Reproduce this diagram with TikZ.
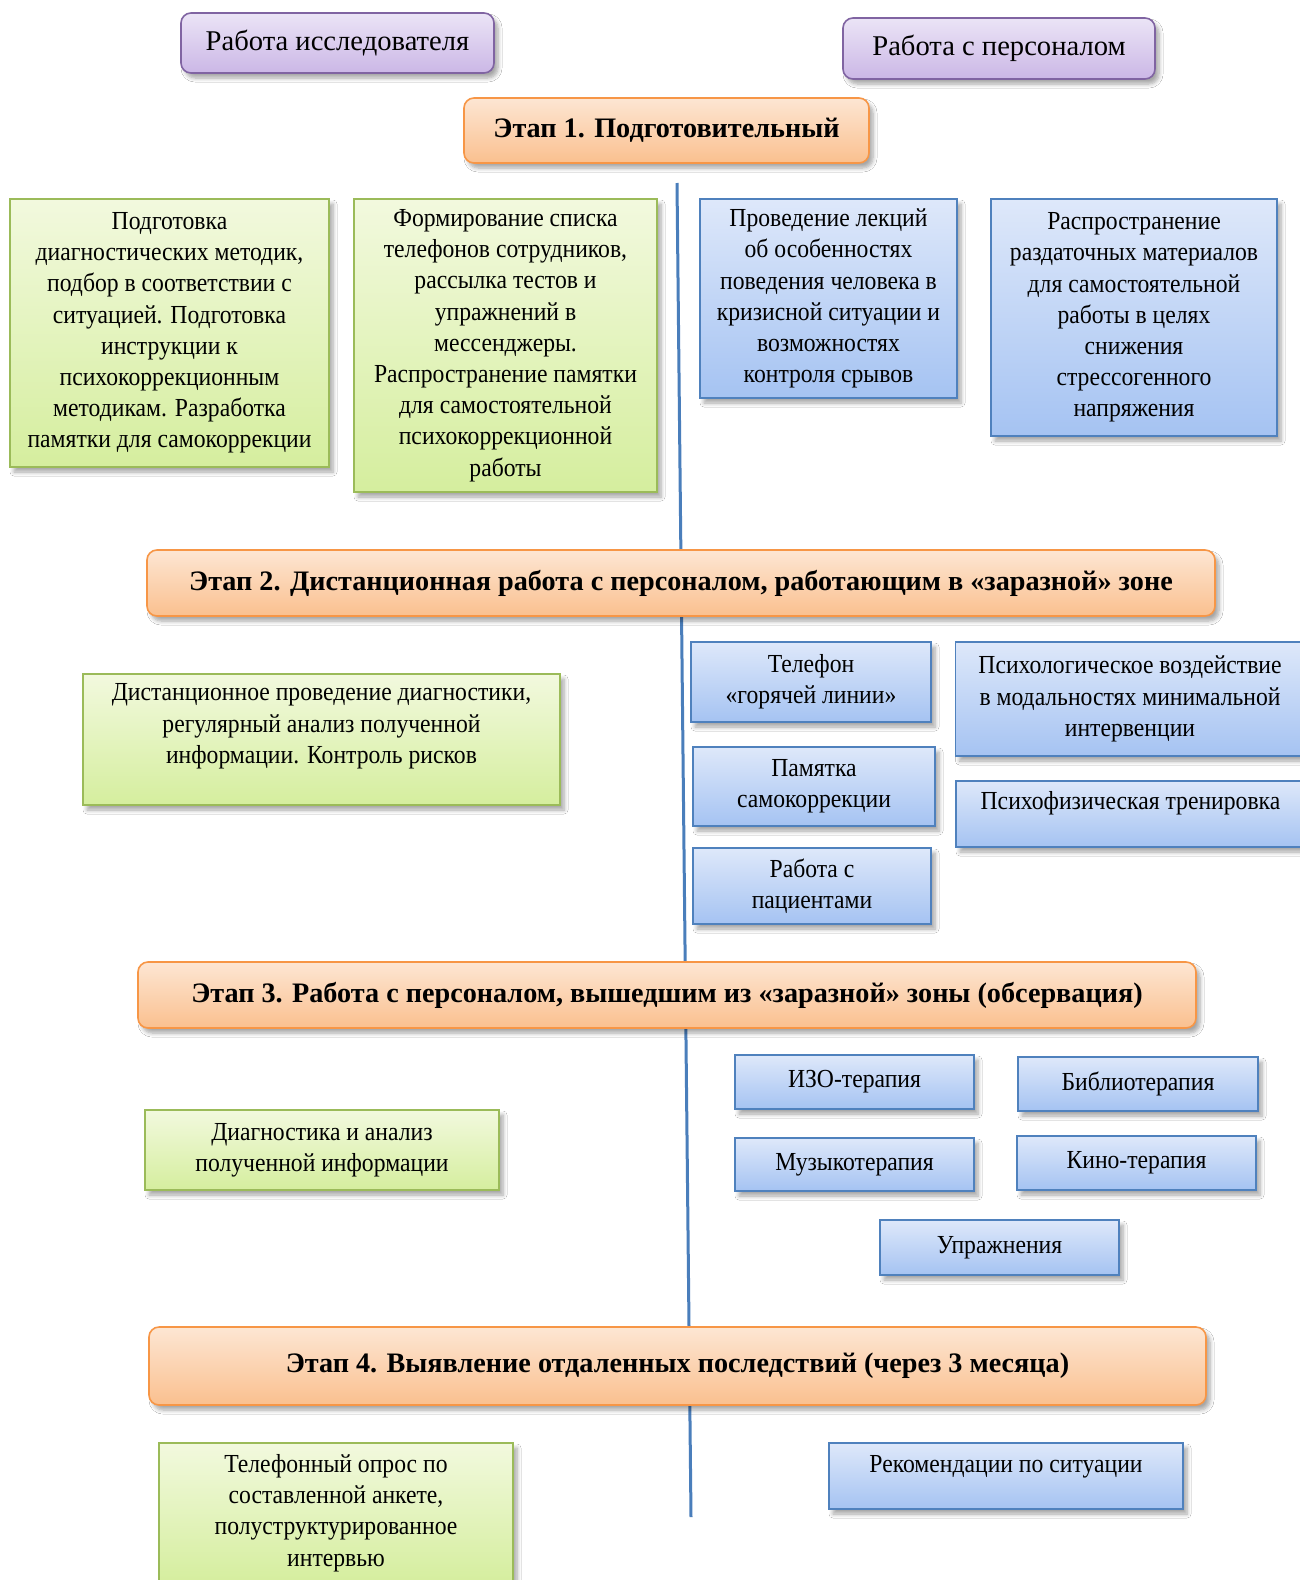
\documentclass[tikz,border=0pt]{standalone}
\usepackage{fontspec}
\setmainfont{Liberation Serif}
\newfontfamily\boxfont[FakeStretch=0.91]{Liberation Serif}
\usetikzlibrary{shadows.blur,backgrounds}
\definecolor{gtop}{HTML}{F2F9DE}
\definecolor{gbot}{HTML}{D5EE9E}
\definecolor{gline}{HTML}{9BBB59}
\definecolor{btop}{HTML}{DEE8FA}
\definecolor{bbot}{HTML}{A5C3F2}
\definecolor{bline}{HTML}{4F81BD}
\definecolor{otop}{HTML}{FDE6D3}
\definecolor{obot}{HTML}{FAC08F}
\definecolor{oline}{HTML}{F79646}
\definecolor{ptop}{HTML}{EBE4F6}
\definecolor{pbot}{HTML}{CBB7E6}
\definecolor{pline}{HTML}{8064A2}
\definecolor{axis}{HTML}{4A7EBB}
\tikzset{
  sz/.style 2 args={minimum width=#1*0.5pt, minimum height=#2*0.5pt},
  basebox/.style={inner sep=1pt, align=center, line width=0.8pt,
    blur shadow={shadow xshift=2pt, shadow yshift=-2.5pt, shadow opacity=35, shadow blur steps=6, shadow blur radius=2pt}},
  gbox/.style={basebox, draw=gline, top color=gtop, bottom color=gbot,
    font=\boxfont\fontsize{13}{15.6}\selectfont},
  bbox/.style={basebox, draw=bline, top color=btop, bottom color=bbot,
    font=\boxfont\fontsize{13}{15.6}\selectfont},
  obox/.style={basebox, rounded corners=5pt, draw=oline, top color=otop, bottom color=obot,
    font=\fontsize{14.1}{17}\selectfont\bfseries},
  pbox/.style={basebox, rounded corners=5pt, draw=pline, top color=ptop, bottom color=pbot,
    font=\fontsize{14.3}{17}\selectfont},
  axisline/.style={draw=axis, line width=1.5pt}
}
\begin{document}
\begin{tikzpicture}[x=0.5pt,y=-0.5pt]
\clip (0,0) rectangle (1300,1580);
\fill[white] (0,0) rectangle (1300,1580);
\coordinate (ltop) at (677,183);
\coordinate (lbot) at (691,1517);
\draw[axisline] (ltop) -- (lbot);

\node[pbox, sz={313}{60}] (p1) at (337.5,43) {Работа исследователя};
\node[pbox, sz={312}{61}] (p2) at (999,48.5) {Работа с персоналом};

\node[obox, sz={405}{65}] (s1) at (666.5,130.5) {Этап 1. Подготовительный};

\node[gbox, sz={319}{268}] (gA) at (169.5,333) {Подготовка\\ диагностических методик,\\ подбор в соответствии с\\ ситуацией. Подготовка\\ инструкции к\\ психокоррекционным\\ методикам. Разработка\\ памятки для самокоррекции};
\node[gbox, sz={303}{293}] (gB) at (505.5,345.5) {Формирование списка\\ телефонов сотрудников,\\ рассылка тестов и\\ упражнений в\\ мессенджеры.\\ Распространение памятки\\ для самостоятельной\\ психокоррекционной\\ работы};
\node[bbox, sz={257}{199}] (bC) at (828.5,298.5) {Проведение лекций\\ об особенностях\\ поведения человека в\\ кризисной ситуации и\\ возможностях\\ контроля срывов};
\node[bbox, sz={286}{237}] (bD) at (1134,317.5) {Распространение\\ раздаточных материалов\\ для самостоятельной\\ работы в целях\\ снижения\\ стрессогенного\\ напряжения};

\node[obox, sz={1068}{66}] (s2) at (681,583) {Этап 2. Дистанционная работа с персоналом, работающим в «заразной» зоне};

\node[gbox, sz={477}{131}, text depth=16pt] (g2) at (321.5,739.5) {Дистанционное проведение диагностики,\\ регулярный анализ полученной\\ информации. Контроль рисков};
\node[bbox, sz={240}{80}] (b21) at (811,682) {Телефон\\ «горячей линии»};
\node[bbox, sz={349}{114}] (b22) at (1130,699) {Психологическое воздействие\\ в модальностях минимальной\\ интервенции};
\node[bbox, sz={242}{79}] (b23) at (814,786.5) {Памятка\\ самокоррекции};
\node[bbox, sz={349}{66}, text depth=14pt] (b24) at (1130.5,814) {Психофизическая тренировка};
\node[bbox, sz={238}{76}] (b25) at (812,886) {Работа с\\ пациентами};

\node[obox, sz={1058}{66}] (s3) at (667,995) {Этап 3. Работа с персоналом, вышедшим из «заразной» зоны (обсервация)};

\node[gbox, sz={354}{80}] (g3) at (322,1150) {Диагностика и анализ\\ полученной информации};
\node[bbox, sz={239}{54}] (b31) at (854.5,1082) {ИЗО-терапия};
\node[bbox, sz={240}{54}] (b32) at (1138,1084) {Библиотерапия};
\node[bbox, sz={239}{53}] (b33) at (854.5,1164.5) {Музыкотерапия};
\node[bbox, sz={239}{54}] (b34) at (1136.5,1163) {Кино-терапия};
\node[bbox, sz={239}{55}] (b35) at (999.5,1247.5) {Упражнения};

\node[obox, sz={1057}{78}] (s4) at (677.5,1366) {Этап 4. Выявление отдаленных последствий (через 3 месяца)};

\node[gbox, sz={354}{140}] (g4) at (336,1513) {Телефонный опрос по\\ составленной анкете,\\ полуструктурированное\\ интервью};
\node[bbox, sz={354}{66}, text depth=12pt] (b4) at (1006,1476) {Рекомендации по ситуации};
\end{tikzpicture}
\end{document}
